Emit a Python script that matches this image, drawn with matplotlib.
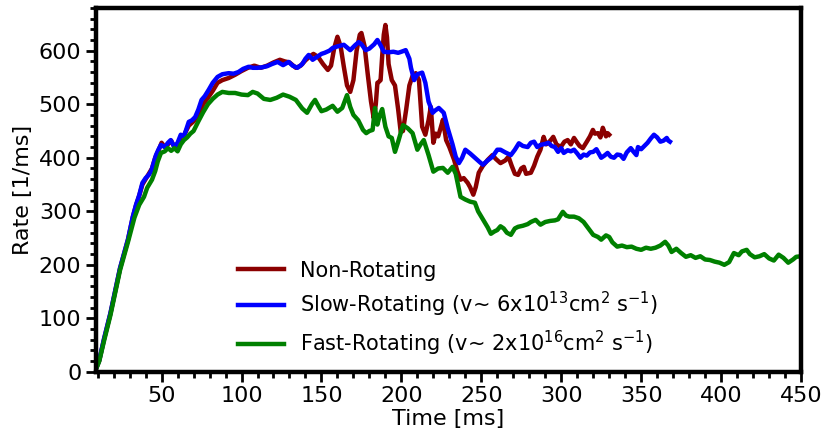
import matplotlib
matplotlib.use("Agg")
import matplotlib.pyplot as plt
from matplotlib.ticker import MultipleLocator

# Non-rotating model
t_non = [9, 11, 14, 18, 21, 24, 27, 29, 32, 34, 36, 38, 40, 42, 44, 46, 48, 50, 52, 54, 56, 58, 60,
         62, 64, 67, 70, 73, 76, 79, 82, 85, 88, 92, 96, 100, 104, 108, 112, 116, 120, 124, 127,
         130, 134, 137, 140, 143, 145, 148, 151, 154, 156, 158, 160, 162, 164, 166, 168, 170, 172,
         174, 175, 177, 179, 181, 182.7, 184, 185, 186, 187, 188, 189, 190, 191, 192, 194, 196,
         198, 199.6, 201, 203, 205, 207, 209, 211, 213, 215, 217, 218.4, 220, 221.5, 223, 224.5,
         226, 228, 230, 233, 235, 237, 239, 241.5, 243, 245, 246.5, 248.4, 251, 254, 257, 259,
         262, 265, 267, 269, 271, 273, 275, 276.6, 278, 281, 283, 285, 287, 289, 290.5, 292, 294,
         295, 297, 299.7, 302, 304, 306, 308, 310, 311.5, 313.5, 316, 318, 319.8, 321, 323,
         324.5, 326, 328, 329, 330]
r_non = [6, 21, 61, 109, 151, 193, 225, 247, 289, 311, 329, 350, 360, 370, 380, 400, 413, 428, 420,
         425, 432, 420, 425, 438, 442, 460, 468, 480, 500, 512, 525, 540, 545, 549, 555, 562, 568,
         572, 568, 572, 578, 583, 580, 578, 568, 572, 582, 590, 594, 588, 575, 564, 572, 605, 626,
         608, 570, 535, 523, 545, 600, 630, 633, 608, 555, 505, 474, 500, 540, 542, 545, 590, 630,
         648, 625, 575, 545, 535, 490, 448, 450, 490, 535, 553, 558, 545, 458, 443, 470, 495, 428,
         445, 440, 455, 471, 433, 420, 396, 375, 359, 362, 353, 345, 331, 345, 372, 385, 396, 405,
         398, 390, 395, 402, 385, 370, 368, 380, 383, 370, 372, 385, 402, 415, 439, 425, 428, 435,
         439, 425, 420, 430, 433, 425, 437, 428, 422, 418, 430, 440, 452, 445, 446, 438, 456, 440,
         446, 443]

# Slow-rotating model
t_slow = [9, 11, 14, 18, 21, 24, 27, 29, 32, 34, 36, 38, 40, 42, 43.5, 46.5, 48, 49.6, 52, 54, 55.7, 58,
          60, 62, 64, 67, 69, 71, 73, 75, 77, 79.5, 82, 85, 88, 92, 95, 98, 101, 104.5, 107, 110,
          113, 116, 119, 122.6, 126, 129.5, 132, 135, 138, 140, 142, 144.5, 147, 150, 152, 155,
          157, 160, 164, 166, 168, 171, 173.3, 175, 177.7, 180, 183, 185, 187, 189, 192, 195, 198,
          200, 202.7, 205, 206, 208, 210, 213, 215, 217, 219.6, 221, 223.4, 226.5, 229, 232, 234,
          236, 238, 240, 243, 246, 249, 251, 254, 257, 260, 262, 265, 268.5, 271, 273.5, 276, 279,
          281, 283, 285, 287, 290, 292, 294, 296, 298, 300, 301.6, 304, 306, 308, 310, 312, 314,
          316, 318, 320, 322, 325, 327, 329, 331, 333, 335, 337, 339, 341, 343.5, 345, 347, 348,
          350, 352, 354, 356, 358, 360, 362, 364, 366, 367, 368]
r_slow = [6, 22, 62, 110, 152, 194, 226, 248, 290, 312, 330, 353, 362, 368, 375, 405, 415, 424, 420,
          428, 433, 420, 428, 443, 440, 467, 470, 476, 490, 508, 515, 527, 540, 551, 556, 558, 557,
          560, 566, 570, 568, 568, 569, 571, 575, 579, 573, 579, 572, 568, 575, 585, 592, 583, 588,
          594, 596, 600, 605, 608, 611, 606, 601, 610, 616, 612, 601, 604, 612, 620, 610, 598, 597,
          598, 596, 598, 601, 585, 568, 545, 556, 559, 540, 505, 484, 488, 493, 484, 455, 425, 402,
          390, 400, 415, 408, 400, 392, 387, 395, 402, 415, 415, 410, 405, 415, 427, 422, 420, 428,
          430, 420, 424, 426, 428, 422, 420, 411, 418, 409, 414, 412, 415, 408, 400, 406, 404, 410,
          411, 416, 400, 404, 409, 402, 400, 406, 405, 398, 410, 418, 412, 405, 420, 416, 422, 428,
          436, 443, 438, 430, 432, 437, 432, 430]

# Fast-rotating model
t_fast = [9, 11, 14, 18, 21, 24, 27, 29, 33, 36, 39, 41, 44, 46, 47.6, 49.6, 52, 54, 56, 58, 60,
          62, 64, 66, 68, 70, 73, 76, 79, 82, 85, 88, 92, 96, 100, 104, 107, 110, 114, 118, 122,
          126, 130, 134, 138, 141, 144, 146, 148, 150, 153, 157, 160, 163, 166, 168, 170, 173, 176,
          178, 180, 182, 183.5, 185, 186.5, 188, 190, 192, 194, 196, 198, 201, 204, 207, 210, 212,
          214, 217, 220, 223, 226, 229, 232, 234, 237, 240, 243, 246, 248, 251, 254, 256, 258, 260,
          262, 264, 266, 268.5, 271, 273, 276, 279, 281, 284, 287, 290, 293, 296, 298, 301, 303,
          305, 308, 311, 314, 317, 320, 323, 325, 328, 330, 332, 335, 338, 341, 344, 347, 350, 353,
          356, 359, 362, 365, 367, 369, 372, 375, 378, 381, 384, 387, 390, 393, 396, 399, 402, 405,
          408, 411, 413, 416, 418, 421, 424, 427, 430, 433, 436, 439, 442, 445, 447, 450]
r_fast = [5, 20, 58, 106, 148, 190, 222, 243, 288, 312, 327, 344, 359, 375, 393, 409, 412,
          418, 413, 418, 412, 425, 433, 438, 445, 450, 468, 485, 500, 510, 518, 523, 521, 521, 518,
          517, 523, 520, 510, 508, 512, 518, 514, 508, 492, 484, 500, 508, 497, 487, 490, 497, 486,
          493, 517, 495, 480, 470, 452, 446, 450, 452, 493, 462, 480, 491, 458, 440, 437, 411, 430,
          461, 455, 446, 415, 425, 433, 405, 374, 380, 381, 372, 383, 370, 327, 322, 318, 316, 300,
          285, 270, 258, 262, 265, 272, 268, 260, 256, 268, 271, 273, 276, 280, 284, 275, 280, 282,
          283, 285, 299, 292, 290, 290, 287, 280, 268, 256, 252, 247, 255, 252, 242, 234, 236, 233,
          234, 230, 228, 232, 230, 232, 236, 243, 236, 224, 230, 222, 215, 218, 213, 216, 210, 209,
          206, 204, 200, 205, 222, 218, 225, 228, 220, 214, 216, 220, 212, 208, 219, 213, 204, 210,
          215, 216]

labels = ['Non-Rotating',
          r'Slow-Rotating (v~ 6x10$^{13}$cm$^{2}$ s$^{-1}$)',
          r'Fast-Rotating (v~ 2x10$^{16}$cm$^{2}$ s$^{-1}$)']

fig = plt.figure(figsize=(8.23, 4.36), dpi=100)
ax = fig.add_axes([0.1167, 0.147, 0.8566, 0.835])

ax.plot(t_non, r_non, color='darkred', linewidth=3.2, label=labels[0])
ax.plot(t_slow, r_slow, color='blue', linewidth=3.2, label=labels[1])
ax.plot(t_fast, r_fast, color='green', linewidth=3.2, label=labels[2])

ax.set_xlim(9, 450)
ax.set_ylim(0, 680)
ax.xaxis.set_major_locator(MultipleLocator(50))
ax.xaxis.set_minor_locator(MultipleLocator(10))
ax.yaxis.set_major_locator(MultipleLocator(100))
ax.yaxis.set_minor_locator(MultipleLocator(20))
ax.tick_params(which='major', direction='out', length=7, width=2, labelsize=16)
ax.tick_params(which='minor', direction='out', length=4.5, width=2)
for s in ax.spines.values():
    s.set_linewidth(3.2)

ax.set_xlabel('Time [ms]', fontsize=16, labelpad=2)
ax.set_ylabel('Rate [1/ms]', fontsize=16)

ax.legend(loc='upper left', bbox_to_anchor=(0.266, 0.445), bbox_transform=fig.transFigure,
          frameon=False, fontsize=15, handlelength=2.2, labelspacing=0.45)

fig.savefig('out.png', dpi=100)
